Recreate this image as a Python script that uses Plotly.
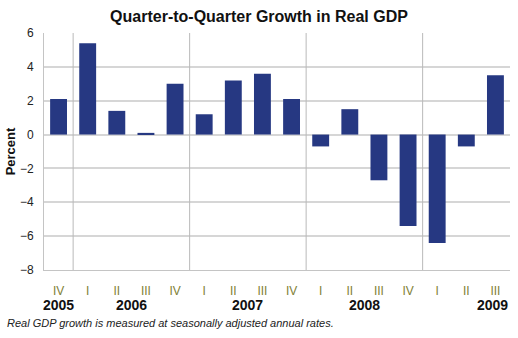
import plotly.graph_objects as go

# Quarterly real GDP growth, seasonally adjusted annual rates (percent)
quarters = ["IV", "I", "II", "III", "IV", "I", "II", "III", "IV",
            "I", "II", "III", "IV", "I", "II", "III"]
growth = [2.1, 5.4, 1.4, 0.1, 3.0, 1.2, 3.2, 3.6, 2.1,
          -0.7, 1.5, -2.7, -5.4, -6.4, -0.7, 3.5]
years = ["2005", "2006", "2007", "2008", "2009"]
y_ticks = [6, 4, 2, 0, -2, -4, -6, -8]

FONT = "Liberation Sans, Arial, sans-serif"
BAR_COLOR = "#263882"
GRID = "#d6d6d6"
SEP = "#bababa"
QCOLOR = "#7f7f36"

x = list(range(len(quarters)))

fig = go.Figure(go.Bar(
    x=x, y=growth, marker=dict(color=BAR_COLOR, line=dict(width=0)),
    width=0.58, hoverinfo="y",
))

# year group boundaries (index of first quarter of each new year)
starts = [i for i, q in enumerate(quarters) if q == "I"]
shapes = [dict(type="line", xref="x", yref="paper", x0=s - 0.5, x1=s - 0.5,
               y0=0, y1=1, line=dict(color=SEP, width=1)) for s in starts]

# year label positions: under the single 2005 quarter, centred on full years,
# and 2009 set as for a four-quarter year ending at the last bar
year_x = [0, starts[0] + 1.5, starts[1] + 1.5, starts[2] + 1.5, starts[3] + 1.9]
annotations = [dict(x=xx, y=-0.148, xref="x", yref="paper", text="<b>" + yr + "</b>",
                    showarrow=False, font=dict(family=FONT, size=14, color="#111"),
                    xanchor="center", yanchor="middle")
               for xx, yr in zip(year_x, years)]
annotations.append(dict(
    x=0, y=-0.225, xref="paper", yref="paper", xshift=-39,
    text="<i>Real GDP growth is measured at seasonally adjusted annual rates.</i>",
    showarrow=False, xanchor="left", yanchor="middle",
    font=dict(family=FONT, size=11, color="#222")))

fig.update_layout(
    width=518, height=338,
    margin=dict(l=44, r=8, t=33, b=68),
    paper_bgcolor="white", plot_bgcolor="white",
    title=dict(text="<b>Quarter-to-Quarter Growth in Real GDP</b>",
               x=0.5, xanchor="center", y=0.952, yanchor="middle",
               font=dict(family=FONT, size=16, color="#111")),
    font=dict(family=FONT, size=12, color="#222"),
    showlegend=False,
    shapes=shapes,
    annotations=annotations,
    xaxis=dict(
        range=[-0.5, len(quarters) - 0.5],
        tickmode="array", tickvals=x, ticktext=quarters,
        tickfont=dict(family=FONT, size=12, color=QCOLOR),
        showgrid=False, zeroline=False,
        showline=True, linecolor="#c4c4c4", linewidth=1,
        ticks="", ticklabelstandoff=10,
    ),
    yaxis=dict(
        range=[-8, 6], tickmode="array", tickvals=y_ticks,
        tickfont=dict(family=FONT, size=12, color="#222"),
        showgrid=True, gridcolor=GRID, gridwidth=1.5,
        zeroline=False,
        showline=True, linecolor="#c4c4c4", linewidth=1,
        ticks="", ticklabelstandoff=7,
        title=dict(text="<b>Percent</b>", standoff=1,
                   font=dict(family=FONT, size=13, color="#111")),
    ),
)

fig.write_html("out.html")
